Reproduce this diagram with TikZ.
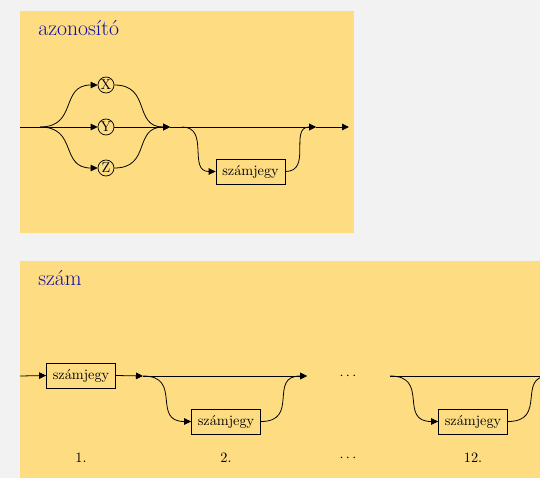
\documentclass[tikz,border=0pt]{standalone}
\usetikzlibrary{arrows.meta,calc}
\definecolor{bggrey}{RGB}{242,242,242}
\definecolor{panel}{RGB}{253,220,130}
\definecolor{titleblue}{RGB}{15,15,165}
\begin{document}
\begin{tikzpicture}[x=0.7pt,y=-0.7pt,
  conn/.style={line width=0.55pt},
  arr/.style={conn,-{Triangle[length=4.9pt,width=4.6pt]}},
  term/.style={circle,draw,line width=0.5pt,minimum size=11.2pt,inner sep=0pt,font=\fontsize{10}{12}\selectfont},
  nonterm/.style={rectangle,draw,line width=0.55pt,minimum width=48.3pt,minimum height=17.5pt,inner sep=0pt,font=\fontsize{10}{12}\selectfont},
  title/.style={anchor=base west,inner sep=0pt,text=titleblue,font=\fontsize{15.2}{18}\selectfont},
  lbl/.style={inner sep=0pt,font=\fontsize{10}{12}\selectfont}]
\useasboundingbox (0,0) rectangle (540,478);
\fill[bggrey] (0,0) rectangle (540,478);
\clip (0,0) rectangle (540,478);
% panels
\fill[panel] (20,11) rectangle (354,233);
\fill[panel] (20,261) rectangle (560,500);
% ---------- panel 1: azonosito
\node[title] (t1) at (38,35) {azonosító};
\coordinate (in1) at (20,127);
\coordinate (sp) at (40,127);
\node[term] (X) at (106,85) {X};
\node[term] (Y) at (106,127) {Y};
\node[term] (Z) at (106,168) {Z};
\coordinate (j) at (170,127);
\coordinate (s2) at (182,127);
\node[nonterm] (b1) at (250.5,171.5) {számjegy};
\coordinate (j2) at (316,127);
\coordinate (out1) at (349,127);
\draw[conn] (in1) -- (sp);
\draw[arr] (sp) .. controls +(38,0) and +(-38,0) .. (X.west);
\draw[arr] (sp) -- (Y.west);
\draw[arr] (sp) .. controls +(38,0) and +(-38,0) .. (Z.west);
\draw[arr] (X.east) .. controls +(37,0) and +(-37,0) .. (j);
\draw[arr] (Y.east) -- (j);
\draw[arr] (Z.east) .. controls +(37,0) and +(-37,0) .. (j);
\draw[arr] (j) -- (j2);
\draw[arr] (s2) .. controls +(28,0) and +(-28,0) .. (b1.west);
\draw[arr] (b1.east) .. controls +(27,0) and +(-27,0) .. (j2);
\draw[arr] (j2) -- (out1);
% ---------- panel 2: szam
\node[title] (t2) at (38,285) {szám};
\coordinate (in2) at (20,376);
\node[nonterm] (c1) at (81,375.5) {számjegy};
\coordinate (p1) at (143,376);
\node[nonterm] (c2) at (226,421.5) {számjegy};
\coordinate (q1) at (307,376);
\node[lbl] (d1) at (348,376) {$\cdots$};
\coordinate (p3) at (390,376);
\node[nonterm] (c3) at (473,421.5) {számjegy};
\coordinate (q3) at (556,376);
\coordinate (out2) at (600,376);
\draw[arr] (in2) -- (c1.west);
\draw[arr] (c1.east) -- (p1);
\draw[arr] (p1) -- (q1);
\draw[arr] (p1) .. controls +(40,0) and +(-40,0) .. (c2.west);
\draw[arr] (c2.east) .. controls +(39,0) and +(-39,0) .. (q1);
\draw[conn] (p3) -- (out2);
\draw[arr] (p3) .. controls +(40,0) and +(-40,0) .. (c3.west);
\draw[arr] (c3.east) .. controls +(40,0) and +(-40,0) .. (q3);
\node[lbl] (l1) at (81,458) {1.};
\node[lbl] (l2) at (226,458) {2.};
\node[lbl] (l3) at (348,458) {$\cdots$};
\node[lbl] (l4) at (473,458) {12.};
\end{tikzpicture}
\end{document}
